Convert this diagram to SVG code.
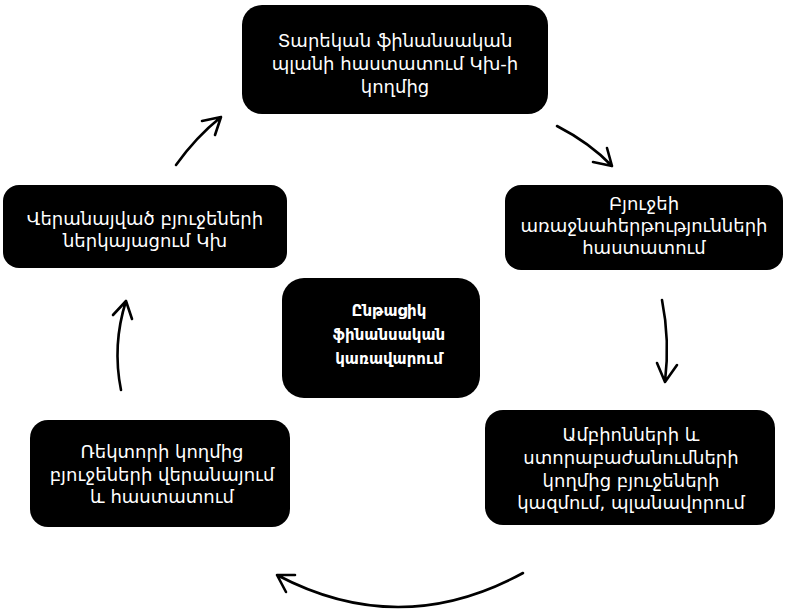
<svg xmlns="http://www.w3.org/2000/svg" width="785" height="609" viewBox="0 0 785 609">
<style>
.box{fill:#000}
.t{font-family:"DejaVu Sans",sans-serif;font-size:18px;fill:#fff;text-anchor:middle}
.b{font-weight:bold;font-size:15px}
.c{fill:none;stroke:#000;stroke-width:2.6;stroke-linecap:round;stroke-linejoin:round}
</style>
<rect width="785" height="609" fill="#fff"/>
<g id="n1"><rect class="box" x="242" y="5" width="306" height="109" rx="20"/>
<text class="t" x="395" y="47">Տարեկան ֆինանսական</text>
<text class="t" x="395" y="70">պլանի հաստատում Կխ-ի</text>
<text class="t" x="395" y="93">կողմից</text></g>
<g id="n2"><rect class="box" x="505" y="185" width="278" height="85" rx="16"/>
<text class="t" x="644" y="210">Բյուջեի</text>
<text class="t" x="644" y="232">առաջնահերթությունների</text>
<text class="t" x="644" y="254">հաստատում</text></g>
<g id="n3"><rect class="box" x="485" y="410" width="290" height="115" rx="18"/>
<text class="t" x="631" y="441">Ամբիոնների և</text>
<text class="t" x="631" y="464">ստորաբաժանումների</text>
<text class="t" x="631" y="487">կողմից բյուջեների</text>
<text class="t" x="631" y="509">կազմում, պլանավորում</text></g>
<g id="n4"><rect class="box" x="30" y="420" width="260" height="107" rx="18"/>
<text class="t" x="162" y="458">Ռեկտորի կողմից</text>
<text class="t" x="162" y="481">բյուջեների վերանայում</text>
<text class="t" x="162" y="503">և հաստատում</text></g>
<g id="n5"><rect class="box" x="3" y="185" width="284" height="83" rx="16"/>
<text class="t" x="145" y="225">Վերանայված բյուջեների</text>
<text class="t" x="145" y="247">ներկայացում Կխ</text></g>
<g id="n6"><rect class="box" x="282" y="278" width="198" height="120" rx="22"/>
<text class="t b" x="389" y="316">Ընթացիկ</text>
<text class="t b" x="389" y="340">ֆինանսական</text>
<text class="t b" x="389" y="364">կառավարում</text></g>
<g id="connectors">
<path class="c" d="M176,165 Q196,137 221,117 M202,121 L221,117 L215,135"/>
<path class="c" d="M557,126 Q590,143 612,166 M593,162 L612,166 L607,148"/>
<path class="c" d="M662,300 Q670,340 665,382 M657,363 L665,382 L677,365"/>
<path class="c" d="M121,390 Q112,345 126,301 M113,315 L126,301 L132,319"/>
<path class="c" d="M523,573 Q400,640 277,575 M295,575 L277,575 L286,592"/>
</g>
</svg>
